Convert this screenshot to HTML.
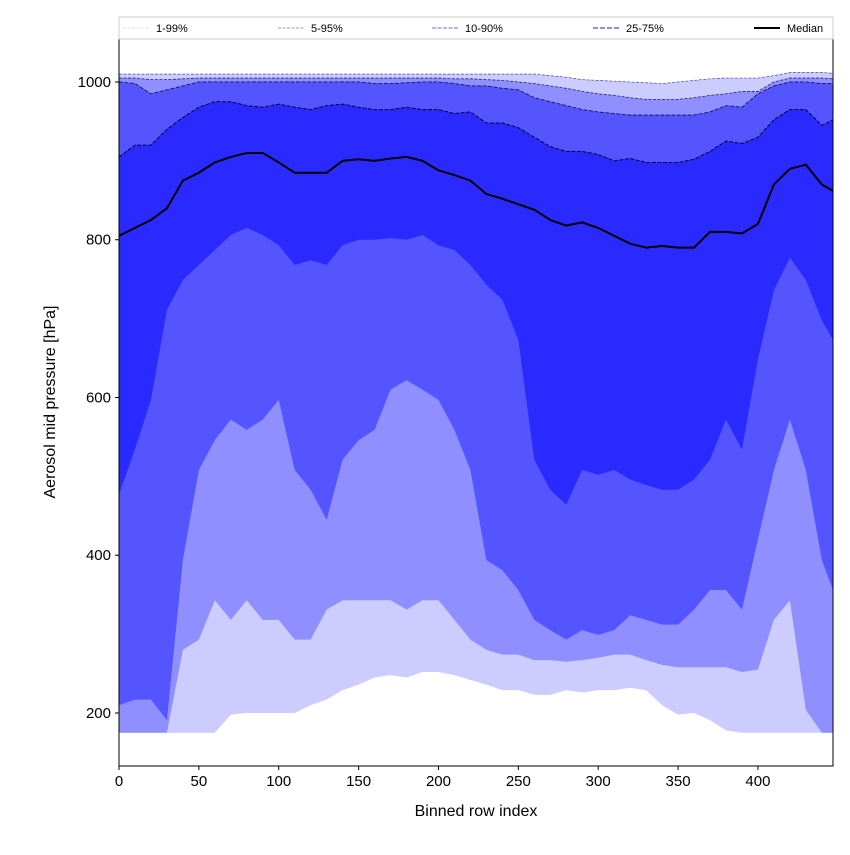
<!DOCTYPE html>
<html><head><meta charset="utf-8"><style>
body{margin:0;background:#fff;}
svg text{font-family:"Liberation Sans",sans-serif;}
</style></head><body>
<svg id="c" width="850" height="850" xmlns="http://www.w3.org/2000/svg"></svg>
<script>
const xs=[0,10,20,30,40,50,60,70,80,90,100,110,120,130,140,150,160,170,180,190,200,210,220,230,240,250,260,270,280,290,300,310,320,330,340,350,360,370,380,390,400,410,420,430,440,447];
const u99=[1010,1010,1010,1010,1010,1010,1010,1010,1010,1010,1010,1010,1010,1010,1010,1010,1010,1010,1010,1010,1010,1010,1010,1010,1010,1010,1010,1008,1006,1003,1002,1001,1000,999,998,1000,1002,1004,1005,1005,1005,1008,1012,1012,1012,1011];
const u95=[1005,1005,1003,1003,1004,1005,1005,1005,1005,1005,1005,1005,1005,1005,1005,1005,1005,1005,1005,1005,1005,1004,1004,1003,1002,1000,998,995,992,988,985,983,980,978,978,978,980,983,985,988,988,1000,1005,1005,1005,1004];
const u90=[1000,998,985,990,995,1000,1000,1000,1000,1000,1000,1000,1000,1000,1000,1000,998,998,999,1000,1000,998,995,995,992,990,980,975,970,965,962,960,958,958,958,958,958,962,970,968,985,995,1000,1000,998,998];
const u75=[905,920,920,940,955,968,975,975,970,968,972,968,965,970,972,968,965,965,968,965,965,960,962,948,948,942,930,918,912,912,908,900,903,898,898,898,902,912,925,922,930,952,965,965,945,952];
const med=[805,815,825,840,875,885,898,905,910,910,898,885,885,885,900,902,900,903,905,900,888,882,875,858,852,845,838,825,818,822,815,805,795,790,792,790,790,810,810,808,820,870,890,895,870,862];
const l25=[477,534,597,711,749,768,787,806,815,806,793,768,774,768,793,800,800,802,800,806,793,787,768,743,724,673,521,483,464,508,502,508,496,489,483,483,496,521,572,534,648,736,777,749,698,673];
const l10=[210,217,217,191,394,508,546,572,559,572,597,508,483,445,521,546,559,610,622,610,597,559,508,394,381,356,318,305,293,305,299,305,324,318,312,312,331,356,356,331,420,508,572,508,394,356];
const l5=[175,175,175,175,280,293,343,318,343,318,318,293,293,331,343,343,343,343,331,343,343,318,293,280,274,274,267,267,265,267,270,274,274,267,261,258,258,258,258,252,255,318,343,204,175,175];
const l1=[175,175,175,175,175,175,175,198,200,200,200,200,210,217,229,236,245,248,245,252,252,248,242,236,229,229,223,223,229,226,229,229,232,229,210,198,200,191,178,175,175,175,175,175,175,175];
const xTicks=[0,50,100,150,200,250,300,350,400];
const yTicks=[200,400,600,800,1000];
const legendLabels=["1-99%","5-95%","10-90%","25-75%","Median"];

const L=119,R=833,T=39,B=766,XMAX=447,YMIN=132.8,YMAX=1054.5,FLOOR=175;
const sx=v=>L+(v/XMAX)*(R-L);
const sy=v=>B-(v-YMIN)/(YMAX-YMIN)*(B-T);
const svg=document.getElementById('c');
const NS='http://www.w3.org/2000/svg';
function mk(t,a,p){const e=document.createElementNS(NS,t);for(const k in a)e.setAttribute(k,a[k]);(p||svg).appendChild(e);return e;}
function band(lo,hi,color,name){
  let pts=xs.map((x,i)=>sx(x)+','+sy(hi[i]));
  for(let i=xs.length-1;i>=0;i--)pts.push(sx(xs[i])+','+sy(Math.max(lo[i],FLOOR)));
  const p=mk('polygon',{points:pts.join(' '),fill:color});
  
  
}
function line(arr,color,w,dash,name){
  const p=mk('polyline',{points:xs.map((x,i)=>sx(x)+','+sy(arr[i])).join(' '),fill:'none',stroke:color,'stroke-width':w});
  if(dash)p.setAttribute('stroke-dasharray',dash);
  
  
}
band(l1,u99,'#ccccff','band-1-99');
band(l5,u95,'#8f8fff','band-5-95');
band(l10,u90,'#5555ff','band-10-90');
band(l25,u75,'#2a2aff','band-25-75');
line(u99,'#4444bb',0.7,'3,1.5','line-p99');
line(u95,'#222288',0.8,'3,1.5','line-p95');
line(u90,'#111166',0.9,'4,1.5','line-p90');
line(u75,'#000044',1,'4,1.5','line-p75');
line(med,'#000',2,null,'median-line');

const frame=mk('rect',{x:L,y:T,width:R-L,height:B-T,fill:'none',stroke:'#000','stroke-width':1});


xTicks.forEach(v=>{
  const t=mk('line',{x1:sx(v),x2:sx(v),y1:B,y2:B+4,stroke:'#000'});
  
  
  const l=mk('text',{x:sx(v),y:B+20,'text-anchor':'middle','font-size':15});
  l.textContent=v;
  
  
});
yTicks.forEach(v=>{
  const t=mk('line',{x1:L-4,x2:L,y1:sy(v),y2:sy(v),stroke:'#000'});
  
  
  const l=mk('text',{x:L-8,y:sy(v)+5,'text-anchor':'end','font-size':15});
  l.textContent=v;
  
  
});
const xt=mk('text',{x:(L+R)/2,y:816,'text-anchor':'middle','font-size':16});
xt.textContent='Binned row index';


const yt=mk('text',{x:0,y:0,'text-anchor':'middle','font-size':16,transform:'translate(55,402) rotate(-90)'});
yt.textContent='Aerosol mid pressure [hPa]';



// legend
const lg=mk('g',{});


mk('rect',{x:119,y:17,width:714,height:22,fill:'#fff',stroke:'#ccc','stroke-width':1},lg);
const lgX=[123,278,432,593,754];
const lgStyle=[['#ddddee',1,'3,1.5'],['#9999cc',1,'3,1.5'],['#8888ee',1.2,'4,1.5'],['#6666ff',1.5,'5,2'],['#000',2,null]];
legendLabels.forEach((s,i)=>{
  const g=mk('g',{},lg);
  
  
  const ln=mk('line',{x1:lgX[i],x2:lgX[i]+26,y1:28,y2:28,stroke:lgStyle[i][0],'stroke-width':lgStyle[i][1]},g);
  if(lgStyle[i][2])ln.setAttribute('stroke-dasharray',lgStyle[i][2]);
  const t=mk('text',{x:lgX[i]+33,y:32,'font-size':11},g);
  t.textContent=s;
});
</script>
</body></html>
